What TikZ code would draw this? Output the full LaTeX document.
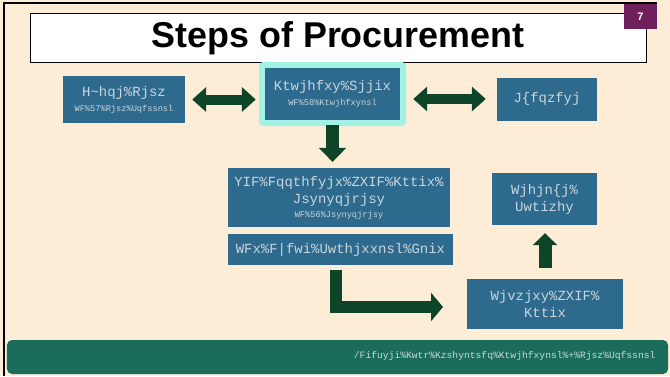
\documentclass[tikz,border=0pt]{standalone}
\usepackage{fontspec}
\setmainfont{Liberation Sans}
\newfontfamily\boxfont{Liberation Mono}
\usetikzlibrary{arrows.meta}

\definecolor{pagebg}{HTML}{FDEDD6}
\definecolor{boxblue}{HTML}{2D6A8D}
\definecolor{boxtext}{HTML}{CBD6DE}
\definecolor{arrowgreen}{HTML}{0E4528}
\definecolor{footgreen}{HTML}{1A6D5B}
\definecolor{slidenum}{HTML}{6E1F5C}
\definecolor{glowc}{HTML}{A4F1E6}

\tikzset{
    stepbox/.style={fill=boxblue, text=boxtext, align=center, inner sep=0pt,
        font=\boxfont\fontsize{14}{17}\selectfont},
    blockarrow/.style={draw=arrowgreen, line width=10bp, line join=miter},
    twoheads/.style={{Triangle[width=24bp,length=14bp]}-{Triangle[width=24bp,length=14bp]}},
}
\newcommand{\smalltxt}[1]{{\fontsize{8.7}{10}\selectfont #1}}

\begin{document}
\begin{tikzpicture}[x=1bp,y=-1bp]
    \useasboundingbox (0,0) rectangle (670,376);
    \fill[pagebg] (0,0) rectangle (670,376);
    \draw[line width=2bp] (4,376) -- (4,3) -- (657,3);

    %%%%%%%%%%%%%%%%%%%%%%%%%%%%%%%%%%%%
    % title bar
    %%%%%%%%%%%%%%%%%%%%%%%%%%%%%%%%%%%%
    \node[draw=black, fill=white, minimum width=616bp, minimum height=49bp, inner sep=0pt] (titlebox) at (338,37.5) {};
    \node[font=\bfseries\fontsize{36}{40}\selectfont] (title) at (338,38) {Steps of Procurement};
    \node[fill=slidenum, text=white, minimum width=33bp, minimum height=25bp, inner sep=0pt,
        font=\bfseries\fontsize{11}{12}\selectfont] (num) at (640.5,16.5) {7};

    %%%%%%%%%%%%%%%%%%%%%%%%%%%%%%%%%%%%
    % steps
    %%%%%%%%%%%%%%%%%%%%%%%%%%%%%%%%%%%%
    \fill[glowc, rounded corners=4bp] (259,62) rectangle (406,126);
    \node[stepbox, minimum width=135bp, minimum height=52bp] (forecast) at (332.5,94)
        {Ktwjhfxy\%Sjjix\\[-2bp]\smalltxt{WF\%58\%Ktwjhfxynsl}};
    \node[stepbox, minimum width=122bp, minimum height=47bp] (cyclemenu) at (124,99.5)
        {H\textasciitilde hqj\%Rjsz\\[-2bp]\smalltxt{WF\%57\%Rjsz\%Uqfssnsl}};
    \node[stepbox, minimum width=100bp, minimum height=43bp] (evaluate) at (547,99) {J\{fqzfyj};

    \node[stepbox, minimum width=222bp, minimum height=59bp] (allocate) at (339,197.5)
        {YIF\%Fqqthfyjx\%ZXIF\%Kttix\%\\Jsynyqjrjsy\\[-3bp]\smalltxt{WF\%56\%Jsynyqjrjsy}};
    \node[stepbox, minimum width=225bp, minimum height=31bp] (award) at (340.5,249.5)
        {WFx\%F|fwi\%Uwthjxxnsl\%Gnix};

    \node[stepbox, minimum width=105bp, minimum height=52bp] (receive) at (544.5,199) {Wjhjn\{j\%\\Uwtizhy};
    \node[stepbox, minimum width=156bp, minimum height=50bp] (request) at (545,304) {Wjvzjxy\%ZXIF\%\\Kttix};

    %%%%%%%%%%%%%%%%%%%%%%%%%%%%%%%%%%%%
    % block arrows
    %%%%%%%%%%%%%%%%%%%%%%%%%%%%%%%%%%%%
    \draw[blockarrow, twoheads, shorten <=7bp, shorten >=9bp] (cyclemenu.east) -- (cyclemenu.east -| forecast.west);
    \draw[blockarrow, twoheads, shorten <=13bp, shorten >=11bp] (forecast.east |- evaluate.west) -- (evaluate.west);
    \draw[blockarrow, line width=13bp, -{Triangle[width=27bp,length=14bp]}, shorten <=5bp, shorten >=6bp]
        (forecast.south) -- (forecast.south |- allocate.north);

    \coordinate (lend) at (443,307);
    \draw[blockarrow, line width=12bp, -{Triangle[width=28bp,length=12bp]}, shorten <=5bp]
        ([xshift=-5bp]award.south) |- (lend);
    \draw[blockarrow, line width=13bp, -{Triangle[width=24bp,length=12bp]}, shorten <=11bp, shorten >=8bp]
        (request.north) -- (request.north |- receive.south);

    %%%%%%%%%%%%%%%%%%%%%%%%%%%%%%%%%%%%
    % footer
    %%%%%%%%%%%%%%%%%%%%%%%%%%%%%%%%%%%%
    \node[fill=footgreen, rounded corners=5bp, minimum width=661bp, minimum height=34bp, inner sep=0pt] (footer) at (337.5,357) {};
    \node[anchor=east, text=boxtext, font=\boxfont\fontsize{9.7}{11}\selectfont] (source) at (659,356)
        {/Fifuyji\%Kwtr\%Kzshyntsfq\%Ktwjhfxynsl\%+\%Rjsz\%Uqfssnsl};

\end{tikzpicture}
\end{document}
